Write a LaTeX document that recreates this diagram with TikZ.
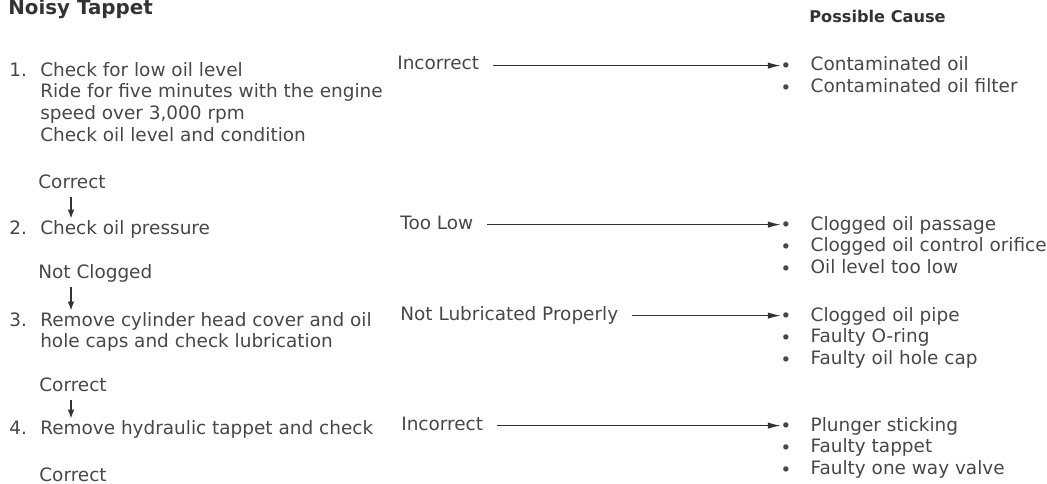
\documentclass[tikz,border=0pt]{standalone}
\usepackage{fontspec}
\setmainfont{DejaVu Sans}
\usetikzlibrary{arrows.meta}

% numbered step: number column, then text rows
\newcommand{\stepitem}[2]{\begin{tabular}[t]{@{}l@{}l@{}}\makebox[17.6pt][l]{#1} & #2\end{tabular}}
\newcommand{\causelist}[1]{\begin{tabular}[t]{@{}l@{\hspace{12pt}}l@{}}#1\end{tabular}}
\newcommand{\dotmark}{\raisebox{1.2pt}{$\scriptstyle\bullet$}}

\begin{document}
\begin{tikzpicture}[x=0.02cm, y=-0.02cm,
  every node/.style={inner sep=0pt, text=black!72,
                     font=\fontsize{10.5}{12.4}\selectfont},
  lbl/.style={anchor=base west, text height=8.7pt, text depth=3.7pt},
  blk/.style={anchor=base west},
  flow/.style={draw=black!80, line width=0.7pt,
               -{Latex[length=5pt,width=3.8pt]}, shorten <=1.5pt},
  cause/.style={draw=black!80, line width=0.85pt,
                -{Latex[length=7.5pt,width=3.6pt]},
                shorten <=7.5pt, shorten >=0.5pt}]
  \useasboundingbox (0,0) rectangle (1047,483);
  % headings
  \node[blk, text=black!80, font=\fontsize{11.3}{13}\selectfont\bfseries]
    (title) at (8,15) {Noisy Tappet};
  \node[blk, text=black!80, font=\fontsize{9.2}{11}\selectfont\bfseries]
    (head) at (809,23) {Possible Cause};
  % checks
  \node[blk] (s1) at (9,76) {\stepitem{1.}{Check for low oil level\\
    & Ride for five minutes with the engine\\
    & speed over 3,000 rpm\\
    & Check oil level and condition}};
  \node[lbl] (c1) at (38,188) {Correct};
  \node[blk] (s2) at (9,234) {\stepitem{2.}{Check oil pressure}};
  \node[lbl] (c2) at (38,278) {Not Clogged};
  \node[blk] (s3) at (9,326) {\stepitem{3.}{Remove cylinder head cover and oil\\
    & hole caps and check lubrication}};
  \node[lbl] (c3) at (39,391) {Correct};
  \node[blk] (s4) at (9,434) {\stepitem{4.}{Remove hydraulic tappet and check}};
  \node[lbl] (c4) at (39,481) {Correct};
  \coordinate (ax) at (71,0);
  \draw[flow] (c1.south -| ax) -- (s2.north -| ax);
  \draw[flow] (c2.south -| ax) -- (s3.north -| ax);
  \draw[flow] (c3.south -| ax) -- (s4.north -| ax);
  % results
  \node[lbl] (r1) at (397,70) {Incorrect};
  \node[lbl] (r2) at (400,229) {Too Low};
  \node[lbl] (r3) at (400,320) {Not Lubricated Properly};
  \node[lbl] (r4) at (401,430) {Incorrect};
  % possible causes
  \node[blk] (p1) at (782,71) {\causelist{\dotmark & Contaminated oil\\
    \dotmark & Contaminated oil filter}};
  \node[blk] (p2) at (782,230) {\causelist{\dotmark & Clogged oil passage\\
    \dotmark & Clogged oil control orifice\\
    \dotmark & Oil level too low}};
  \node[blk] (p3) at (782,321) {\causelist{\dotmark & Clogged oil pipe\\
    \dotmark & Faulty O-ring\\
    \dotmark & Faulty oil hole cap}};
  \node[blk] (p4) at (782,431) {\causelist{\dotmark & Plunger sticking\\
    \dotmark & Faulty tappet\\
    \dotmark & Faulty one way valve}};
  \draw[cause] (r1.east) -- (r1.east -| p1.west);
  \draw[cause] (r2.east) -- (r2.east -| p2.west);
  \draw[cause] (r3.east) -- (r3.east -| p3.west);
  \draw[cause] (r4.east) -- (r4.east -| p4.west);
\end{tikzpicture}
\end{document}
